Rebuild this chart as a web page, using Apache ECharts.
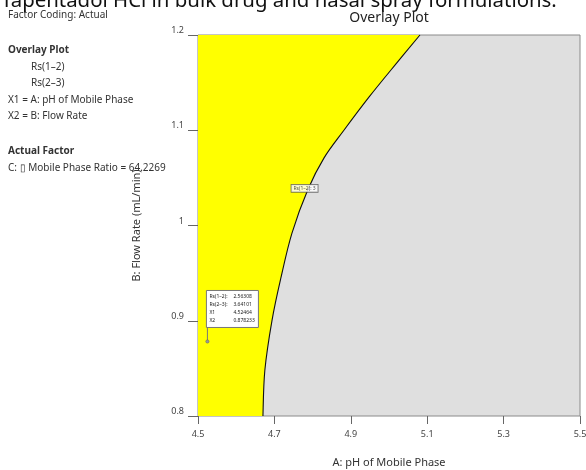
<!DOCTYPE html>
<html>
<head>
<meta charset="utf-8">
<script src="https://cdn.jsdelivr.net/npm/echarts@6/dist/echarts.min.js"></script>
<style>
  html, body { margin: 0; padding: 0; background: #fff; }
  #chart { width: 586px; height: 470px; }
</style>
</head>
<body>
<div id="chart"></div>
<script>
// Boundary of the Rs(1-2) = 3 contour (pH of mobile phase vs flow rate)
const boundaryPH   = [4.670, 4.675, 4.694, 4.717, 4.746, 4.788, 4.830, 4.882, 4.948, 5.021, 5.081];
const boundaryFlow = [0.800, 0.848, 0.901, 0.945, 0.992, 1.038, 1.071, 1.100, 1.135, 1.171, 1.200];

// Axis ranges and ticks
const phTicks   = [4.5, 4.7, 4.9, 5.1, 5.3, 5.5];
const flowTicks = [0.8, 0.9, 1.0, 1.1, 1.2];

// Contour label position and text
const contourLabelPos = [4.779, 1.039];
const contourLabelText = 'Rs(1\u20132): 3';

// Flagged design point
const flagPoint = [4.52464, 0.878233];
const flagRs12 = '2.56308';
const flagRs23 = '3.64101';
const flagX1 = '4.52464';
const flagX2 = '0.878233';

// Side panel text
const sideLines = [
  { text: 'Factor Coding: Actual', bold: false, indent: 0 },
  { text: 'Overlay Plot', bold: true, indent: 0 },
  { text: 'Rs(1\u20132)', bold: false, indent: 1 },
  { text: 'Rs(2\u20133)', bold: false, indent: 1 },
  { text: 'X1 = A: pH of Mobile Phase', bold: false, indent: 0 },
  { text: 'X2 = B: Flow Rate', bold: false, indent: 0 },
  { text: 'Actual Factor', bold: true, indent: 0 },
  { text: 'C: \u25AF Mobile Phase Ratio = 64.2269', bold: false, indent: 0 }
];
const sideY = [16, 51, 68, 84, 101, 117, 152, 169];

const FONT = '"Noto Sans", "Open Sans", sans-serif';
const chart = echarts.init(document.getElementById('chart'));

const graphics = sideLines.map((l, i) => ({
  type: 'text',
  left: 8 + l.indent * 23,
  top: sideY[i] - 6,
  style: {
    text: l.text,
    fill: '#333',
    font: (l.bold ? 'bold ' : '') + '10px ' + FONT
  },
  z: 1
}));

// Smooth path (Catmull-Rom -> cubic Bezier) through pixel points
function smoothPath(pts) {
  let d = 'M' + pts[0][0] + ' ' + pts[0][1];
  for (let i = 0; i < pts.length - 1; i++) {
    const p0 = pts[Math.max(i - 1, 0)], p1 = pts[i], p2 = pts[i + 1], p3 = pts[Math.min(i + 2, pts.length - 1)];
    const c1x = p1[0] + (p2[0] - p0[0]) / 6, c1y = p1[1] + (p2[1] - p0[1]) / 6;
    const c2x = p2[0] - (p3[0] - p1[0]) / 6, c2y = p2[1] - (p3[1] - p1[1]) / 6;
    d += ' C' + c1x + ' ' + c1y + ' ' + c2x + ' ' + c2y + ' ' + p2[0] + ' ' + p2[1];
  }
  return d;
}

chart.setOption({
  animation: false,
  title: [
    {
      text: 'Tapentadol HCl in bulk drug and nasal spray formulations.',
      left: 1, top: -9, padding: 0,
      textStyle: { fontSize: 20.4, fontWeight: 'normal', color: '#111', fontFamily: FONT }
    },
    {
      text: 'Overlay Plot',
      left: 389, top: 11, padding: 0, textAlign: 'center',
      textStyle: { fontSize: 14, fontWeight: 'normal', color: '#222', fontFamily: FONT }
    }
  ],
  graphic: graphics,
  grid: {
    left: 198, right: 6, top: 35, bottom: 54,
    outerBoundsMode: 'none', containLabel: false,
    show: true, backgroundColor: '#dfdfdf', borderColor: '#8a8a8a', borderWidth: 1
  },
  xAxis: {
    type: 'value', min: phTicks[0], max: phTicks[phTicks.length - 1], interval: 0.2,
    name: 'A: pH of Mobile Phase', nameLocation: 'middle', nameGap: 41,
    nameTextStyle: { fontSize: 11, color: '#333', fontFamily: FONT },
    axisLine: { show: false },
    axisTick: { show: true, length: 8, lineStyle: { color: '#666' } },
    axisLabel: { fontSize: 9, color: '#444', margin: 14, fontFamily: FONT,
      formatter: v => String(+v.toFixed(1)) },
    splitLine: { show: false }
  },
  yAxis: {
    type: 'value', min: flowTicks[0], max: flowTicks[flowTicks.length - 1], interval: 0.1,
    name: 'B: Flow Rate (mL/min)', nameLocation: 'middle', nameGap: 56,
    nameTextStyle: { fontSize: 11, color: '#333', fontFamily: FONT },
    axisLine: { show: false },
    axisTick: { show: true, length: 10, lineStyle: { color: '#666' } },
    axisLabel: { fontSize: 9, color: '#444', margin: 14, verticalAlign: 'bottom', fontFamily: FONT,
      formatter: v => String(+v.toFixed(1)) },
    splitLine: { show: false }
  },
  series: [
    {
      // yellow feasible region left of the boundary, plus the boundary line
      type: 'custom',
      data: [0],
      silent: true,
      renderItem: function (params, api) {
        const curve = boundaryPH.map((x, i) => api.coord([x, boundaryFlow[i]]));
        const tl = api.coord([phTicks[0], boundaryFlow[boundaryFlow.length - 1]]);
        const bl = api.coord([phTicks[0], boundaryFlow[0]]);
        const line = smoothPath(curve);
        const area = line + ' L' + tl[0] + ' ' + tl[1] + ' L' + bl[0] + ' ' + bl[1] + ' Z';
        return {
          type: 'group',
          children: [
            { type: 'path', shape: { pathData: area }, style: { fill: '#ffff00' } },
            { type: 'path', shape: { pathData: line },
              style: { stroke: '#111', lineWidth: 1.1, fill: null } }
          ]
        };
      },
      z: 2
    },
    {
      // contour label
      type: 'scatter',
      data: [contourLabelPos],
      symbolSize: 0,
      silent: true,
      label: {
        show: true, position: 'inside', formatter: contourLabelText,
        fontSize: 5, color: '#222', fontFamily: FONT,
        backgroundColor: '#fff', borderColor: '#555', borderWidth: 0.8, padding: [1, 2]
      },
      z: 5
    },
    {
      // flagged point with info box
      type: 'custom',
      data: [flagPoint],
      silent: true,
      renderItem: function (params, api) {
        const p = api.coord([api.value(0), api.value(1)]);
        const bx = p[0] - 1, by = p[1] - 51, bw = 52, bh = 37;
        const rows = [
          ['Rs(1\u20132):', flagRs12], ['Rs(2\u20133):', flagRs23], ['X1', flagX1], ['X2', flagX2]
        ];
        const kids = [
          { type: 'line', shape: { x1: p[0], y1: p[1], x2: p[0], y2: by + bh },
            style: { stroke: '#777', lineWidth: 1 } },
          { type: 'circle', shape: { cx: p[0], cy: p[1], r: 1.6 },
            style: { fill: '#999', stroke: '#666', lineWidth: 0.6 } },
          { type: 'rect', shape: { x: bx, y: by, width: bw, height: bh },
            style: { fill: '#fff', stroke: '#777', lineWidth: 1 } }
        ];
        rows.forEach((r, i) => {
          kids.push({ type: 'text', x: bx + 3, y: by + 6 + i * 8,
            style: { text: r[0], font: '5px ' + FONT, fill: '#222', verticalAlign: 'middle' } });
          kids.push({ type: 'text', x: bx + 27, y: by + 6 + i * 8,
            style: { text: r[1], font: '5px ' + FONT, fill: '#222', verticalAlign: 'middle' } });
        });
        return { type: 'group', children: kids };
      },
      z: 6
    }
  ]
});
</script>
</body>
</html>
